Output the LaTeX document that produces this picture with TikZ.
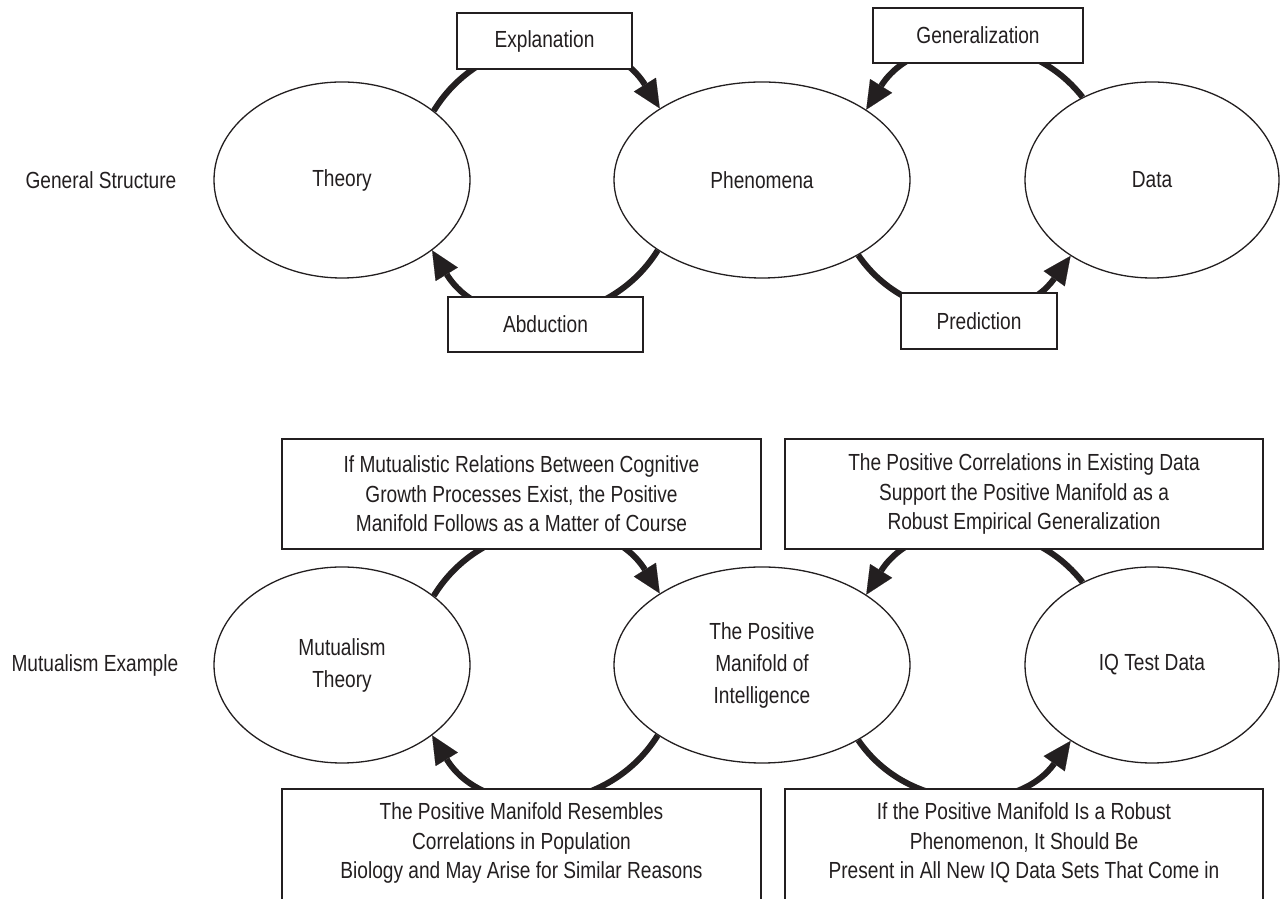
\documentclass[tikz,border=0pt]{standalone}
\usepackage{fontspec}
\setmainfont{Liberation Sans}[FakeStretch=0.82]
\usetikzlibrary{shapes.geometric,arrows.meta,backgrounds}
\definecolor{ink}{HTML}{231F20}
\begin{document}
\begin{tikzpicture}[x=1pt,y=1pt,
  txt/.style={font=\fontsize{23.3}{29.5}\selectfont, text=ink},
  oval/.style={ellipse, draw=ink, line width=1.3pt, fill=white, inner sep=0pt,
    align=center, font=\fontsize{23.3}{32}\selectfont, text=ink, minimum height=196pt},
  lbox/.style={rectangle, draw=ink, line width=1.3pt, fill=white, inner sep=0pt,
    align=center, txt},
  btxt/.style={align=center, txt, inner sep=0pt},
  bline/.style={draw=ink, line width=1.3pt, fill=white},
  cyc/.style={line width=6pt, draw=ink, -{Triangle[length=28pt,width=26pt,line width=0.1pt]}}
]
\useasboundingbox (0,0) rectangle (1280,899);
\clip (0,0) rectangle (1280,899);

% ---------- General structure ----------
\node[txt, anchor=west] (gs) at (22,719) {General Structure};
\node[oval, minimum width=256pt] (T) at (342,719) {Theory};
\node[oval, minimum width=296pt] (P) at (762,719) {Phenomena};
\node[oval, minimum width=254pt] (D) at (1152,719) {Data};

\node[lbox, minimum width=175pt, minimum height=56pt] (ex) at (544.5,858) {Explanation};
\node[lbox, minimum width=210pt, minimum height=55pt] (ge) at (978,863.5) {Generalization};
\node[lbox, minimum width=195pt, minimum height=55pt] (ab) at (545.5,574.5) {Abduction};
\node[lbox, minimum width=156pt, minimum height=56pt] (pr) at (979,578) {Prediction};

% ---------- Mutualism example ----------
\node[txt, anchor=west] (me) at (8,234) {Mutualism Example};
\node[oval, minimum width=256pt] (MT) at (342,234) {Mutualism\\Theory};
\node[oval, minimum width=296pt] (PM) at (762,234) {The Positive\\Manifold of\\Intelligence};
\node[oval, minimum width=254pt] (IQ) at (1152,234) {IQ Test Data};

\node[lbox, minimum width=479pt, minimum height=110pt] (b1) at (521.5,405)
  {If Mutualistic Relations Between Cognitive\\Growth Processes Exist, the Positive\\Manifold Follows as a Matter of Course};
\node[lbox, minimum width=478pt, minimum height=110pt] (b2) at (1024,405)
  {The Positive Correlations in Existing Data\\Support the Positive Manifold as a\\Robust Empirical Generalization};

\path[bline] (282,110) rectangle (761,-20);
\path[bline] (785,110) rectangle (1263,-20);
\node[btxt] (b3) at (521.5,56)
  {The Positive Manifold Resembles\\Correlations in Population\\Biology and May Arise for Similar Reasons};
\node[btxt] (b4) at (1024,56)
  {If the Positive Manifold Is a Robust\\Phenomenon, It Should Be\\Present in All New IQ Data Sets That Come in};

% ---------- cycle arcs ----------
\begin{pgfonlayer}{background}
\draw[cyc] (T.37.7) to[out=58.6, in=122, distance=99pt] (P.145.9);
\draw[cyc] (P.214.1) to[out=238, in=301.4, distance=99pt] (T.322.3);
\draw[cyc] (D.130.6) to[out=128, in=58, distance=92pt] (P.34.6);
\draw[cyc] (P.322.8) to[out=304.5, in=234.3, distance=90pt] (D.223.4);

\draw[cyc] (MT.37.7) to[out=58.6, in=122, distance=99pt] (PM.145.9);
\draw[cyc] (PM.214.1) to[out=238, in=301.4, distance=99pt] (MT.322.3);
\draw[cyc] (IQ.130.6) to[out=128, in=58, distance=92pt] (PM.34.6);
\draw[cyc] (PM.322.8) to[out=304.5, in=234.3, distance=90pt] (IQ.223.4);
\end{pgfonlayer}
\end{tikzpicture}
\end{document}
